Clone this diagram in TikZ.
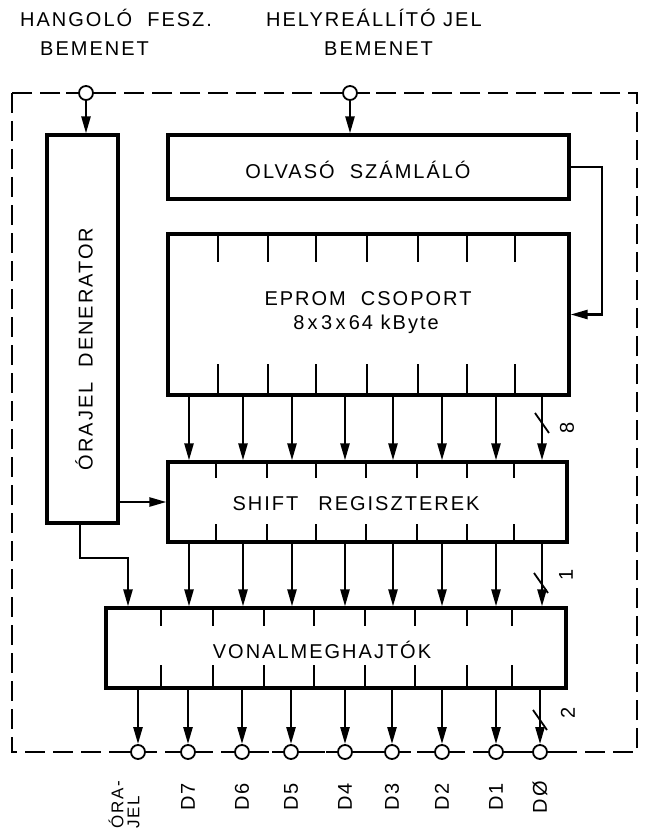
\documentclass[tikz,border=0pt]{standalone}
\usepackage{fontspec}
\setmainfont[LetterSpace=10]{Liberation Sans}
\usetikzlibrary{arrows.meta}

\begin{document}
\begin{tikzpicture}[x=1pt,y=-1pt,
    box/.style={draw,line width=3.2pt,inner sep=0pt},
    arr/.style={line width=2.4pt,-{Triangle[length=17pt,width=9pt]}},
    pin/.style={draw,circle,line width=1.8pt,fill=white,minimum size=14pt,inner sep=0pt},
    txt/.style={font=\fontsize{20}{22}\selectfont,inner sep=0pt},
    frame/.style={line width=2.6pt,dash pattern=on 20pt off 8pt}]
    \useasboundingbox (0,0) rectangle (645,829);

    % Draw the dashed frame
    \draw[frame] (12,93) rectangle (637,752);

    % Add the input texts
    \node[txt,anchor=base west] (hangolo) at (20,27) {HANGOLÓ\ \ FESZ.};
    \node[txt,anchor=base west] (hangbe) at (40,56) {BEMENET};
    \node[txt,anchor=base west] (helyre) at (266,27) {HELYREÁLLÍTÓ JEL};
    \node[txt,anchor=base west] (helybe) at (324,56) {BEMENET};

    % Draw the boxes
    \node[box,minimum width=71pt,minimum height=388pt] (orajel) at (82.5,329) {};
    \node[box,minimum width=401pt,minimum height=64pt] (olvaso) at (368.5,167) {};
    \node[box,minimum width=401pt,minimum height=161pt] (eprom) at (368.5,314.5) {};
    \node[box,minimum width=399pt,minimum height=80pt] (shift) at (367.5,502) {};
    \node[box,minimum width=460pt,minimum height=80pt] (vonal) at (336,648) {};

    % Add the box texts
    \node[txt,rotate=90] (orajeltxt) at (84,349) {ÓRAJEL\ \ DENERATOR};
    \node[txt] (olvasotxt) at (358,170) {OLVASÓ\ \ SZÁMLÁLÓ};
    \node[txt] (epromtxt) at (368,299) {EPROM\ \ CSOPORT};
    \node[txt] (epromsize) at (366,324) {8\,x\,3\,x\,64 kByte};
    \node[txt] (shifttxt) at (356,504) {SHIFT\quad REGISZTEREK};
    \node[txt] (vonaltxt) at (322,650) {VONALMEGHAJTÓK};

    % Draw the pin ticks
    \foreach \x in {218,268,316,367,418,467,515} {
        \draw[line width=2.2pt] (\x,234) -- ++(0,28);
        \draw[line width=2.2pt] (\x,395) -- ++(0,-31);
    }
    \foreach \x in {216,267,316,366,417,467,514} {
        \draw[line width=2.2pt] (\x,462) -- ++(0,16);
        \draw[line width=2.2pt] (\x,542) -- ++(0,-18);
    }
    \foreach \x in {161,213,264,314,365,415,467,512} {
        \draw[line width=2.2pt] (\x,608) -- ++(0,18);
        \draw[line width=2.2pt] (\x,688) -- ++(0,-23);
    }

    % Inputs
    \node[pin] (inA) at (86,93) {};
    \node[pin] (inB) at (350,93) {};
    \foreach \p in {inA,inB} {
        \draw[line width=2.4pt] (\p.west) -- ++(-12,0);
        \draw[line width=2.4pt] (\p.east) -- ++(12,0);
    }
    \draw[arr] (inA) -- (orajel.north -| inA);
    \draw[arr] (inB) -- (olvaso.north -| inB);

    % Feedback from the counter
    \coordinate (fb) at (602,0);
    \draw[arr] (olvaso.east) -- (olvaso.east -| fb) |- (eprom.east);

    % Data buses
    \foreach \x [count=\i] in {189,243,292,345,393,442,496,542}
        \coordinate (col\i) at (\x,0);
    \foreach \i in {1,...,8} {
        \draw[arr] (eprom.south -| col\i) -- (shift.north -| col\i);
        \draw[arr] (shift.south -| col\i) -- (vonal.north -| col\i);
    }

    % Clock lines
    \coordinate (clk) at (80,558);
    \coordinate (clkin) at (128,0);
    \draw[arr] (orajel.south -| clk) -- (clk) -| (vonal.north -| clkin);
    \draw[arr] (orajel.east |- shift.west) -- (shift.west);

    % Outputs
    \foreach \x/\t [count=\i] in {138/{},188/D7,242/D6,291/D5,345/D4,392/D3,442/D2,496/D1,540/DØ} {
        \node[pin] (out\i) at (\x,752) {};
        \draw[line width=2.4pt] (out\i.west) -- ++(-11,0);
        \draw[line width=2.4pt] (out\i.east) -- ++(11,0);
        \draw[arr] (vonal.south -| out\i) -- (out\i.north);
        \node[txt,rotate=90] (lab\i) at (\x,797) {\t};
    }
    \node[txt,rotate=90,anchor=west,align=left,font=\fontsize{17}{16}\selectfont] (labclk) at (124,829) {ÓRA-\\JEL};

    % Bus width marks
    \draw[line width=1.8pt] (535,413) -- (549,433);
    \draw[line width=1.8pt] (534,573) -- (548,593);
    \draw[line width=1.8pt] (533,710) -- (547,730);
    \node[txt,rotate=90] (n8) at (567,428) {8};
    \node[txt,rotate=90] (n1) at (566,575) {1};
    \node[txt,rotate=90] (n2) at (568,713) {2};
\end{tikzpicture}
\end{document}
